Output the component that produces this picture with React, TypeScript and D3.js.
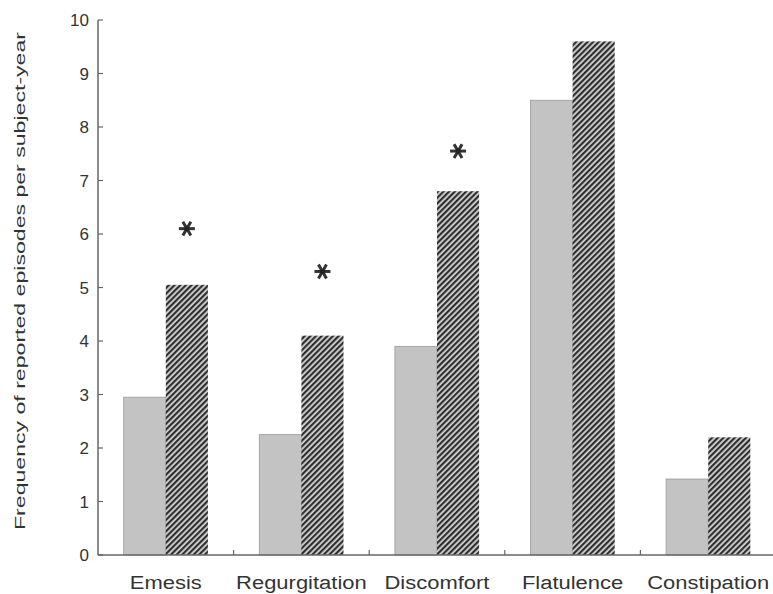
import React, {useRef, useEffect} from 'react'
import * as d3 from 'd3'

const categories = ['Emesis', 'Regurgitation', 'Discomfort', 'Flatulence', 'Constipation']
const seriesA = [2.95, 2.25, 3.9, 8.5, 1.42]
const seriesB = [5.05, 4.1, 6.8, 9.6, 2.2]
// asterisk heights (significant differences), null = none
const starValues: (number | null)[] = [6.1, 5.3, 7.55, null, null]
const yTicks = [0, 1, 2, 3, 4, 5, 6, 7, 8, 9, 10]
const yLabel = 'Frequency of reported episodes per subject-year'

const W = 773
const H = 594

function App() {
  const ref: any = useRef<SVGSVGElement>(null)

  useEffect(() => {
    const svg = d3.select(ref.current)
    svg.selectAll('*').remove()

    const left = 98
    const bottom = 555
    const top = 20

    const x = d3.scaleBand().domain(categories).range([left, 776]).paddingInner(0).paddingOuter(0)
    const inner = d3.scaleBand().domain(['a', 'b']).range([0, x.bandwidth()]).paddingInner(0).paddingOuter(0.61)
    const y = d3.scaleLinear().domain([0, 10]).range([bottom, top])

    // hatch pattern
    const defs = svg.append('defs')
    const pat = defs
      .append('pattern')
      .attr('id', 'hatch')
      .attr('patternUnits', 'userSpaceOnUse')
      .attr('width', 4)
      .attr('height', 4)
      .attr('patternTransform', 'rotate(-45)')
    pat.append('rect').attr('width', 4).attr('height', 4).attr('fill', '#d6d6d6')
    pat.append('rect').attr('width', 4).attr('height', 2.2).attr('fill', '#2e2e2e')

    const font = '"Liberation Sans", Arial, sans-serif'

    const stretch = (sel: any, k: number) => {
      sel.each(function (this: any) {
        const w = this.getComputedTextLength()
        d3.select(this).attr('textLength', w * k).attr('lengthAdjust', 'spacingAndGlyphs')
      })
    }

    // bars
    const g = svg.append('g')
    g.selectAll('rect.a')
      .data(seriesA)
      .join('rect')
      .attr('class', 'a')
      .attr('x', (d, i) => (x(categories[i]) as number) + (inner('a') as number))
      .attr('y', (d) => y(d))
      .attr('width', inner.bandwidth())
      .attr('height', (d) => y(0) - y(d))
      .attr('fill', '#c3c3c3')
      .attr('stroke', '#9a9a9a')
      .attr('stroke-width', 0.8)

    g.selectAll('rect.b')
      .data(seriesB)
      .join('rect')
      .attr('class', 'b')
      .attr('x', (d, i) => (x(categories[i]) as number) + (inner('b') as number))
      .attr('y', (d) => y(d))
      .attr('width', inner.bandwidth())
      .attr('height', (d) => y(0) - y(d))
      .attr('fill', 'url(#hatch)')

    // asterisks
    const stars = starValues
      .map((v, i) => ({v, i}))
      .filter((d) => d.v !== null)
    const sg = svg
      .selectAll('g.star')
      .data(stars)
      .join('g')
      .attr('class', 'star')
      .attr(
        'transform',
        (d: any) =>
          `translate(${(x(categories[d.i]) as number) + (inner('b') as number) + inner.bandwidth() / 2},${y(d.v)})`
      )
    ;[0, 60, 120].forEach((a) => {
      sg.append('line')
        .attr('x1', -8)
        .attr('x2', 8)
        .attr('transform', `rotate(${a})`)
        .attr('stroke', '#333')
        .attr('stroke-width', 3)
    })
    sg.append('circle').attr('r', 2.5).attr('fill', '#222')

    // axes
    const axisColor = '#666'
    svg.append('line').attr('x1', left).attr('x2', left).attr('y1', y(10)).attr('y2', bottom).attr('stroke', axisColor).attr('stroke-width', 1.5)
    svg.append('line').attr('x1', left).attr('x2', W).attr('y1', bottom).attr('y2', bottom).attr('stroke', axisColor).attr('stroke-width', 1.5)

    svg
      .selectAll('line.ytick')
      .data(yTicks)
      .join('line')
      .attr('class', 'ytick')
      .attr('x1', left)
      .attr('x2', left + 5)
      .attr('y1', (d) => y(d))
      .attr('y2', (d) => y(d))
      .attr('stroke', axisColor)
      .attr('stroke-width', 1.2)

    svg
      .selectAll('text.ylab')
      .data(yTicks)
      .join('text')
      .attr('class', 'ylab')
      .attr('x', left - 9)
      .attr('y', (d) => y(d))
      .attr('dy', '0.36em')
      .attr('text-anchor', 'end')
      .attr('font-family', font)
      .attr('font-size', 17)
      .attr('fill', '#333')
      .text((d) => d)

    svg
      .selectAll('line.xtick')
      .data(categories.slice(1))
      .join('line')
      .attr('class', 'xtick')
      .attr('x1', (d) => x(d) as number)
      .attr('x2', (d) => x(d) as number)
      .attr('y1', bottom)
      .attr('y2', bottom - 5)
      .attr('stroke', axisColor)
      .attr('stroke-width', 1.2)

    const cl = svg
      .selectAll('text.cat')
      .data(categories)
      .join('text')
      .attr('class', 'cat')
      .attr('x', (d) => (x(d) as number) + x.bandwidth() / 2)
      .attr('y', 589)
      .attr('text-anchor', 'middle')
      .attr('font-family', font)
      .attr('font-size', 18)
      .attr('fill', '#333')
      .text((d) => d)
    stretch(cl, 1.22)

    svg
      .append('text')
      .attr('transform', `translate(25,${(32 + 530) / 2}) rotate(-90)`)
      .attr('text-anchor', 'middle')
      .attr('font-family', font)
      .attr('font-size', 15)
      .attr('fill', '#333')
      .attr('textLength', 498)
      .attr('lengthAdjust', 'spacingAndGlyphs')
      .text(yLabel)
  }, [])

  return (
    <svg
      ref={ref}
      width={W}
      height={H}
      style={{position: 'absolute', left: 0, top: 0, background: '#fff'}}
    />
  )
}
export default App
